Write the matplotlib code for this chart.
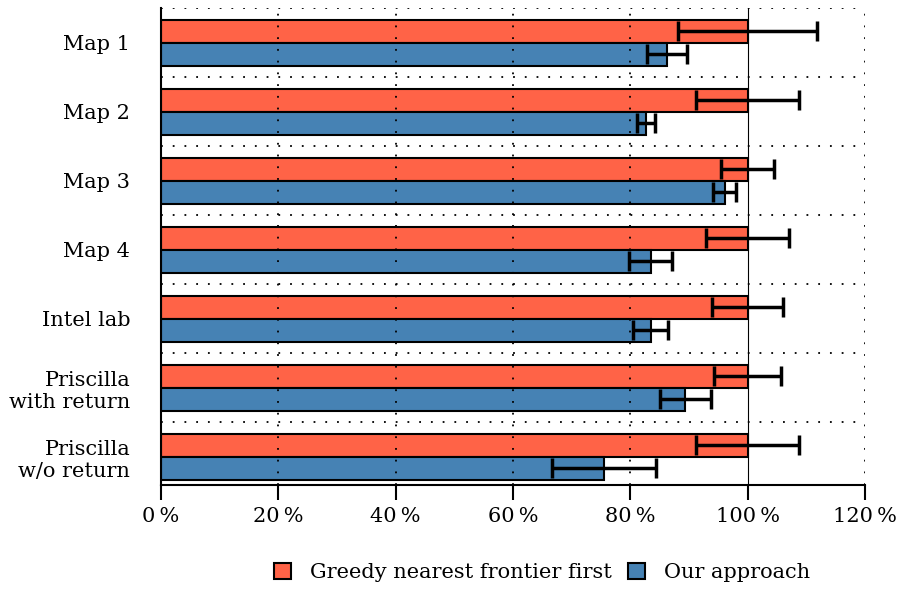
import numpy as np
import matplotlib
matplotlib.use("Agg")
import matplotlib.pyplot as plt
from matplotlib.patches import Patch

categories = ["Map 1", "Map 2", "Map 3", "Map 4", "Intel lab",
              "Priscilla\nwith return", "Priscilla\nw/o return"]
greedy_mean = [100, 100, 100, 100, 100, 100, 100]
greedy_err = [11.9, 8.8, 4.5, 7.0, 6.0, 5.7, 8.8]
ours_mean = [86.2, 82.7, 96.1, 83.5, 83.5, 89.4, 75.5]
ours_err = [3.4, 1.6, 2.0, 3.7, 3.0, 4.4, 8.9]
xticks = [0, 20, 40, 60, 80, 100, 120]

RED = "#FF6347"
BLUE = "#4682B4"

plt.rcParams["font.family"] = ["DejaVu Serif"]
plt.rcParams["font.size"] = 15

fig = plt.figure(figsize=(8.99, 5.90), dpi=100)
ax = fig.add_axes([0.179, 0.178, 0.783, 0.808])

y = np.arange(len(categories))
h = 1 / 3
err_kw = dict(ecolor="black", elinewidth=2.5, capsize=7, capthick=2.5, zorder=5)

ax.barh(y - h / 2, greedy_mean, height=h, color=RED, edgecolor="black",
        linewidth=1.5, xerr=greedy_err, error_kw=err_kw, zorder=2,
        label="Greedy nearest frontier first")
ax.barh(y + h / 2, ours_mean, height=h, color=BLUE, edgecolor="black",
        linewidth=1.5, xerr=ours_err, error_kw=err_kw, zorder=2,
        label="Our approach")

# dotted grid over the bars, solid reference line at 100 %
dotted = dict(color="black", linewidth=1.3, linestyle=(0, (1, 5.5)))
for xv in xticks[1:]:
    if xv == 100:
        ax.axvline(xv, color="black", linewidth=0.8, zorder=3)
    else:
        ax.axvline(xv, zorder=3, **dotted)
for yv in np.arange(-0.5, len(categories) - 1, 1.0):
    ax.axhline(yv, zorder=1, **dotted)

ax.set_xlim(0, 120)
ax.set_ylim(6.41, -0.5)
ax.set_xticks(xticks)
ax.set_xticklabels([f"{v}\u2009%" for v in xticks])
ax.set_yticks(y)
ax.set_yticklabels(categories, ha="right", multialignment="right")
ax.tick_params(axis="y", length=0, pad=22)
ax.tick_params(axis="x", direction="out", length=11, width=1.5, pad=5)

for side in ["top", "right"]:
    ax.spines[side].set_visible(False)
for side in ["left", "bottom"]:
    ax.spines[side].set_linewidth(1.5)

handles = [Patch(facecolor=RED, edgecolor="black", linewidth=1.5),
           Patch(facecolor=BLUE, edgecolor="black", linewidth=1.5)]
fig.legend(handles, ["Greedy nearest frontier first", "Our approach"],
           loc="center", bbox_to_anchor=(0.603, 0.029), ncol=2, frameon=False,
           handlelength=0.8, handleheight=0.8, handletextpad=0.9,
           columnspacing=0.8)

fig.savefig("out.png", dpi=100)
